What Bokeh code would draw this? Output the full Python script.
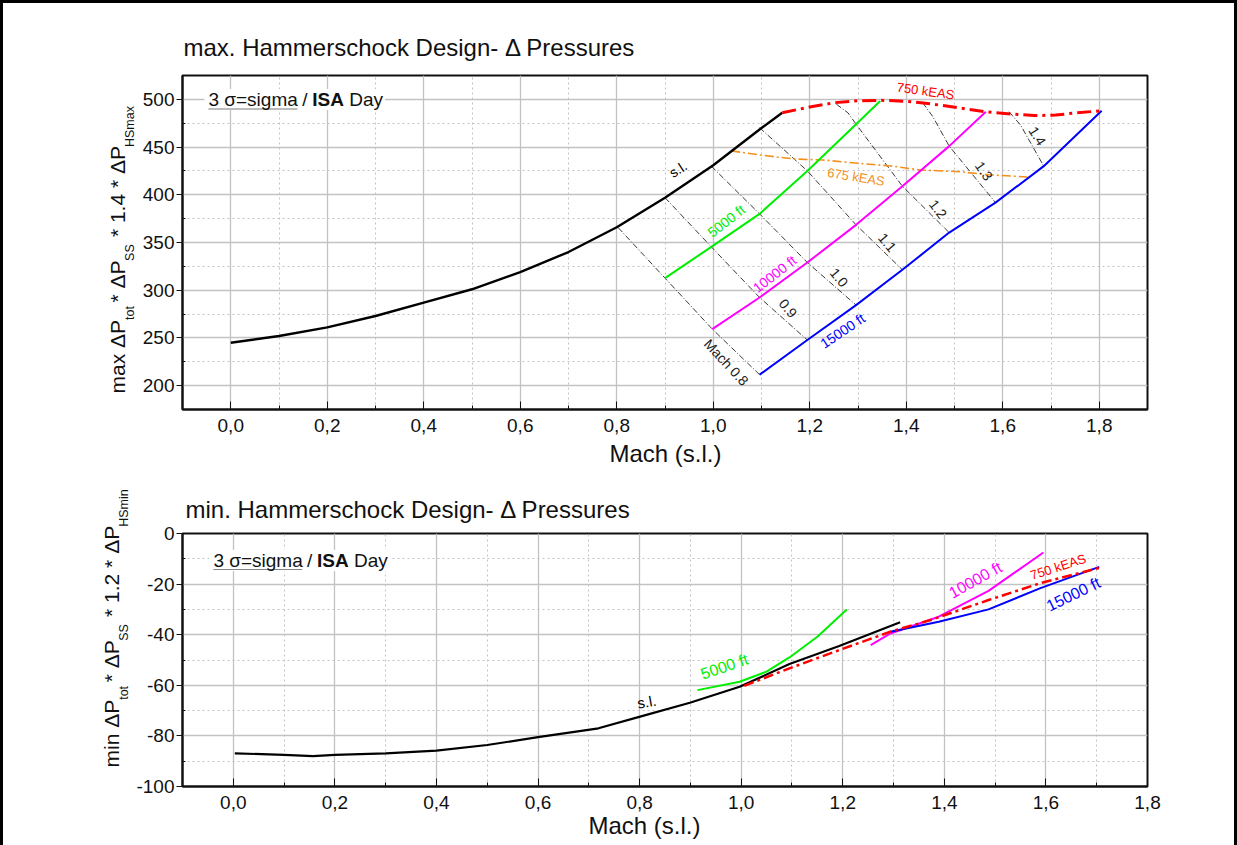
from bokeh.plotting import figure
from bokeh.models import Label, FixedTicker, CustomJSTickFormatter, BoxAnnotation, Title
from bokeh.layouts import column
from bokeh.embed import file_html
from bokeh.resources import INLINE

FONT = "Liberation Sans"
NB = "\u00a0"

# ---------------- axis ticks ----------------
x_ticks = [0.0, 0.2, 0.4, 0.6, 0.8, 1.0, 1.2, 1.4, 1.6, 1.8]
x_tick_labels = ["0,0", "0,2", "0,4", "0,6", "0,8", "1,0", "1,2", "1,4", "1,6", "1,8"]
x_minor_ticks = [-0.1, 0.1, 0.3, 0.5, 0.7, 0.9, 1.1, 1.3, 1.5, 1.7, 1.9]

y_ticks_max = [200, 250, 300, 350, 400, 450, 500]
y_tick_labels_max = ["200", "250", "300", "350", "400", "450", "500"]
y_minor_max = [175, 225, 275, 325, 375, 425, 475, 525]

y_ticks_min = [-100, -80, -60, -40, -20, 0]
y_tick_labels_min = ["-100", "-80", "-60", "-40", "-20", "0"]
y_minor_min = [-90, -70, -50, -30, -10]

# ---------------- upper chart: max pressures ----------------
mach_sl_max = [0.0, 0.1, 0.2, 0.3, 0.4, 0.5, 0.6, 0.7, 0.8, 0.9, 1.0, 1.1, 1.143]
dp_sl_max = [245, 252, 261, 273, 287, 301, 319, 340, 366, 397, 431, 470, 486]

mach_5k_max = [0.9, 0.996, 1.096, 1.195, 1.296, 1.346]
dp_5k_max = [312.7, 345.4, 380, 425, 474, 498.2]

mach_10k_max = [0.998, 1.096, 1.195, 1.296, 1.392, 1.489, 1.565]
dp_10k_max = [259.3, 292.4, 329, 368.5, 409, 451, 487]

mach_15k_max = [1.096, 1.195, 1.296, 1.392, 1.489, 1.585, 1.685, 1.805]
dp_15k_max = [211.5, 247.8, 284.4, 321.4, 360.4, 391.8, 430, 488]

mach_750_max = [1.143, 1.2, 1.251, 1.30, 1.348, 1.40, 1.458, 1.51, 1.565, 1.62, 1.665, 1.71, 1.754, 1.805]
dp_750_max = [486, 492, 496.5, 498.5, 499, 498, 494.8, 491, 487, 484.5, 483, 483.5, 486, 488]

mach_675_max = [1.037, 1.1, 1.168, 1.227, 1.30, 1.368, 1.43, 1.51, 1.57, 1.651]
dp_675_max = [446, 441.5, 437.5, 436.5, 433, 430.2, 426, 424.2, 421, 418.7]

# constant-Mach lines (upper chart)
mach08_x = [0.803, 0.9, 0.998, 1.096]
mach08_y = [365.6, 312.7, 259.3, 211.5]
mach09_x = [0.9, 0.996, 1.096, 1.195]
mach09_y = [397, 345.4, 292.4, 247.8]
mach10_x = [0.996, 1.096, 1.195, 1.296]
mach10_y = [430, 380, 329, 284.4]
mach11_x = [1.096, 1.195, 1.296, 1.392]
mach11_y = [470.3, 425, 368.5, 321.4]
mach12_x = [1.255, 1.279, 1.296, 1.392, 1.489]
mach12_y = [495, 486, 474, 409, 360.4]
mach13_x = [1.434, 1.455, 1.489, 1.585]
mach13_y = [496.5, 482, 451, 391.8]
mach14_x = [1.613, 1.637, 1.685]
mach14_y = [487, 473, 430]

# ---------------- lower chart: min pressures ----------------
mach_sl_min = [0.003, 0.1, 0.157, 0.2, 0.3, 0.4, 0.5, 0.6, 0.719, 0.801, 0.899, 0.997, 1.095, 1.193, 1.313]
dp_sl_min = [-86.9, -87.5, -88.0, -87.5, -86.9, -85.8, -83.6, -80.5, -77.0, -72.4, -66.9, -60.6, -51.6, -44.5, -35.1]

mach_5k_min = [0.914, 0.997, 1.05, 1.095, 1.15, 1.208]
dp_5k_min = [-61.9, -58.6, -54.6, -49.0, -40.8, -30.0]

mach_10k_min = [1.255, 1.294, 1.389, 1.487, 1.595]
dp_10k_min = [-44.1, -39.5, -32.9, -22.7, -7.5]

mach_15k_min = [1.294, 1.389, 1.487, 1.588, 1.705]
dp_15k_min = [-38.8, -34.9, -30.0, -21.7, -13.2]

mach_750_min = [1.006, 1.095, 1.193, 1.294, 1.373, 1.487, 1.588, 1.705]
dp_750_min = [-60.2, -53.3, -46.1, -38.8, -34.2, -26.3, -19.7, -13.6]

BLACK = "#000000"
GREEN = "#00ee00"
MAGENTA = "#ff00ff"
BLUE = "#0000ff"
RED = "#ff0000"
ORANGE = "#f39019"
GREY = "#3a3a3a"
INK = "#111111"


def conv_max(px, py):
    return ((px - 180) * 2.0 / 967 - 0.1, 525 - (py - 75) * 350.0 / 334)


def conv_min(px, py):
    return ((px - 182) * 1.9 / 968 - 0.1, -(py - 533) * 100.0 / 253)


def tick_fmt(tvals, tlabels):
    return CustomJSTickFormatter(args=dict(tvals=tvals, tlabels=tlabels), code="""
        for (let i = 0; i < tvals.length; i++) {
            if (Math.abs(tvals[i] - tick) < 1e-6) { return tlabels[i]; }
        }
        return "";
    """)


def make_fig(height, y_range, borders, yt, ytl, ymin, x_end):
    left, right, top, bottom = borders
    p = figure(width=1231, height=height, x_range=(-0.1, x_end), y_range=y_range,
               output_backend="svg", toolbar_location=None,
               min_border_left=left, min_border_right=right,
               min_border_top=top, min_border_bottom=bottom)
    p.background_fill_color = "white"
    p.border_fill_color = "white"
    p.outline_line_color = INK
    p.outline_line_width = 2

    xt = FixedTicker(ticks=x_ticks, minor_ticks=x_minor_ticks)
    yt_ = FixedTicker(ticks=yt, minor_ticks=ymin)
    p.xaxis.ticker = xt
    p.yaxis.ticker = yt_
    p.xgrid.ticker = xt
    p.ygrid.ticker = yt_
    p.xaxis.formatter = tick_fmt(x_ticks, x_tick_labels)
    p.yaxis.formatter = tick_fmt(yt, ytl)

    for ax in (p.xaxis[0], p.yaxis[0]):
        ax.axis_line_color = INK
        ax.axis_line_width = 2
        ax.major_tick_line_color = INK
        ax.minor_tick_line_color = INK
        ax.major_label_text_font = FONT
        ax.major_label_text_font_size = "19px"
        ax.major_label_text_color = INK
    p.xaxis.major_tick_in = 8
    p.xaxis.major_tick_out = 0
    p.xaxis.minor_tick_in = 4
    p.xaxis.minor_tick_out = 0
    p.xaxis.major_label_standoff = 9
    p.yaxis.major_tick_in = 0
    p.yaxis.major_tick_out = 6
    p.yaxis.minor_tick_in = 3
    p.yaxis.minor_tick_out = 0
    p.yaxis.major_label_standoff = 2

    for g in (p.xgrid, p.ygrid):
        g.grid_line_color = "#c2c2c2"
        g.grid_line_width = 1.3
        g.minor_grid_line_color = "#c2c2c2"
        g.minor_grid_line_width = 1
        g.minor_grid_line_dash = "2 3"
    return p


def add_text(p, x, y, text, color, size, angle=0, align="center", baseline="middle", bold=False):
    p.add_layout(Label(x=x, y=y, text=text, angle=angle, angle_units="deg",
                       text_align=align, text_baseline=baseline, text_font=FONT,
                       text_font_size=f"{size}px", text_color=color,
                       text_font_style="bold" if bold else "normal"))


def add_page_text(p, conv, px, py, text, size, bold=False):
    x, y = conv(px, py)
    add_text(p, x, y, text, INK, size, 0, "left", "middle", bold)


def side_title(p, side, text, size, offset, standoff, valign):
    p.add_layout(Title(text=text, align="left", offset=offset, standoff=standoff,
                       vertical_align=valign, text_font=FONT, text_font_size=f"{size}px",
                       text_font_style="normal", text_color=INK), side)


def set_title(p, text, offset, standoff):
    p.title.text = text
    p.title.align = "left"
    p.title.offset = offset
    p.title.standoff = standoff
    p.title.text_font = FONT
    p.title.text_font_size = "24px"
    p.title.text_font_style = "normal"
    p.title.text_color = INK


def add_ylabel(p, main_text, sub_text, offset_main, offset_sub):
    # subscripts sit next to the axis, main text further out
    side_title(p, "left", sub_text, 12.5, offset_sub, 6, "bottom")
    side_title(p, "left", main_text, 21, offset_main, -22, "bottom")


def add_isa(p, conv, px, py_mid, py_line):
    x0, y0 = conv(px - 4, py_mid - 10)
    x1, y1 = conv(px + 177, py_mid + 11)
    p.add_layout(BoxAnnotation(left=x0, right=x1, top=y0, bottom=y1,
                               fill_color="white", fill_alpha=1.0, line_alpha=0))
    add_page_text(p, conv, px, py_mid, "3 σ=sigma", 19)
    ux0, uy = conv(px, py_line)
    ux1, _ = conv(px + 89, py_line)
    p.add_layout(BoxAnnotation(left=ux0, right=ux1, top=uy, bottom=uy,
                               fill_alpha=0, line_color=INK, line_width=1))
    add_page_text(p, conv, px + 94, py_mid, "/", 19)
    add_page_text(p, conv, px + 104, py_mid, "ISA", 19, bold=True)
    add_page_text(p, conv, px + 141, py_mid, "Day", 19)


# ================= upper figure =================
p1 = make_fig(478, (175, 525), (177, 87, 72, 72), y_ticks_max, y_tick_labels_max, y_minor_max, 1.9)

mach_dash = "6 2 1 2"
for mx, my in [(mach08_x, mach08_y), (mach09_x, mach09_y), (mach10_x, mach10_y), (mach11_x, mach11_y),
               (mach12_x, mach12_y), (mach13_x, mach13_y), (mach14_x, mach14_y)]:
    p1.line(mx, my, line_color=GREY, line_width=1, line_dash=mach_dash)

p1.line(mach_675_max, dp_675_max, line_color=ORANGE, line_width=1.6, line_dash="9 3 2 3")
p1.line(mach_sl_max, dp_sl_max, line_color=BLACK, line_width=2.4)
p1.line(mach_5k_max, dp_5k_max, line_color=GREEN, line_width=2)
p1.line(mach_10k_max, dp_10k_max, line_color=MAGENTA, line_width=2)
p1.line(mach_15k_max, dp_15k_max, line_color=BLUE, line_width=2)
p1.line(mach_750_max, dp_750_max, line_color=RED, line_width=3, line_dash="14 5 3 5")

add_text(p1, 0.927, 426.7, "s.l.", BLACK, 14, 33)
add_text(p1, 1.027, 372.6, "5000 ft", GREEN, 14, 38)
add_text(p1, 1.127, 316.9, "10000 ft", MAGENTA, 14, 38)
add_text(p1, 1.268, 257.5, "15000 ft", BLUE, 14, 34)
add_text(p1, 1.027, 224.4, "Mach 0.8", "#222222", 14, -47)
add_text(p1, 1.155, 281.0, "0.9", "#222222", 14, -50)
add_text(p1, 1.261, 313.4, "1.0", "#222222", 14, -50)
add_text(p1, 1.361, 350.0, "1.1", "#222222", 14, -50)
add_text(p1, 1.466, 385.0, "1.2", "#222222", 14, -52)
add_text(p1, 1.561, 425.0, "1.3", "#222222", 14, -55)
add_text(p1, 1.672, 461.6, "1.4", "#222222", 14, -58)
add_text(p1, 1.44, 508.7, "750 kEAS", RED, 13, -8)
add_text(p1, 1.296, 418.7, "675 kEAS", ORANGE, 13, -9)

add_isa(p1, conv_max, 206, 98.5, 108.5)
set_title(p1, "max. Hammerschock Design- Δ Pressures", 1, 30)
side_title(p1, "below", "Mach (s.l.)", 24, 427, 10, "top")
add_ylabel(p1, "max ΔP" + NB * 3 + "* ΔP" + NB * 4 + "* 1.4 * ΔP",
           "tot" + NB * 13 + "SS" + NB * 28 + "HSmax", 16, 89.5)

# ================= lower figure =================
p2 = make_fig(364, (-100, 0), (179, 84, 52, 59), y_ticks_min, y_tick_labels_min, y_minor_min, 1.8)

p2.line(mach_sl_min, dp_sl_min, line_color=BLACK, line_width=2.2)
p2.line(mach_5k_min, dp_5k_min, line_color=GREEN, line_width=2)
p2.line(mach_10k_min, dp_10k_min, line_color=MAGENTA, line_width=2)
p2.line(mach_15k_min, dp_15k_min, line_color=BLUE, line_width=2)
p2.line(mach_750_min, dp_750_min, line_color=RED, line_width=2.5, line_dash="10 4 3 4")

add_text(p2, 0.814, -66.5, "s.l.", BLACK, 15, 10)
add_text(p2, 0.967, -52.6, "5000 ft", GREEN, 16, 19)
add_text(p2, 1.461, -18.4, "10000 ft", MAGENTA, 16, 29)
add_text(p2, 1.624, -13.2, "750 kEAS", RED, 13, 18)
add_text(p2, 1.654, -24.0, "15000 ft", BLUE, 16, 26)

add_isa(p2, conv_min, 213, 559.5, 569)
set_title(p2, "min. Hammerschock Design- Δ Pressures", 3, 22)
side_title(p2, "below", "Mach (s.l.)", 24, 406, 0, "top")
add_ylabel(p2, "min ΔP" + NB * 3 + "* ΔP" + NB * 4 + "* 1.2 * ΔP",
           "tot" + NB * 13 + "SS" + NB * 28 + "HSmin", 19, 86.7)

layout = column(p1, p2, spacing=0,
                styles={"border-top": "3px solid black", "border-left": "3px solid black",
                        "border-right": "3px solid black"})

open("out.html", "w").write(file_html(layout, INLINE))
